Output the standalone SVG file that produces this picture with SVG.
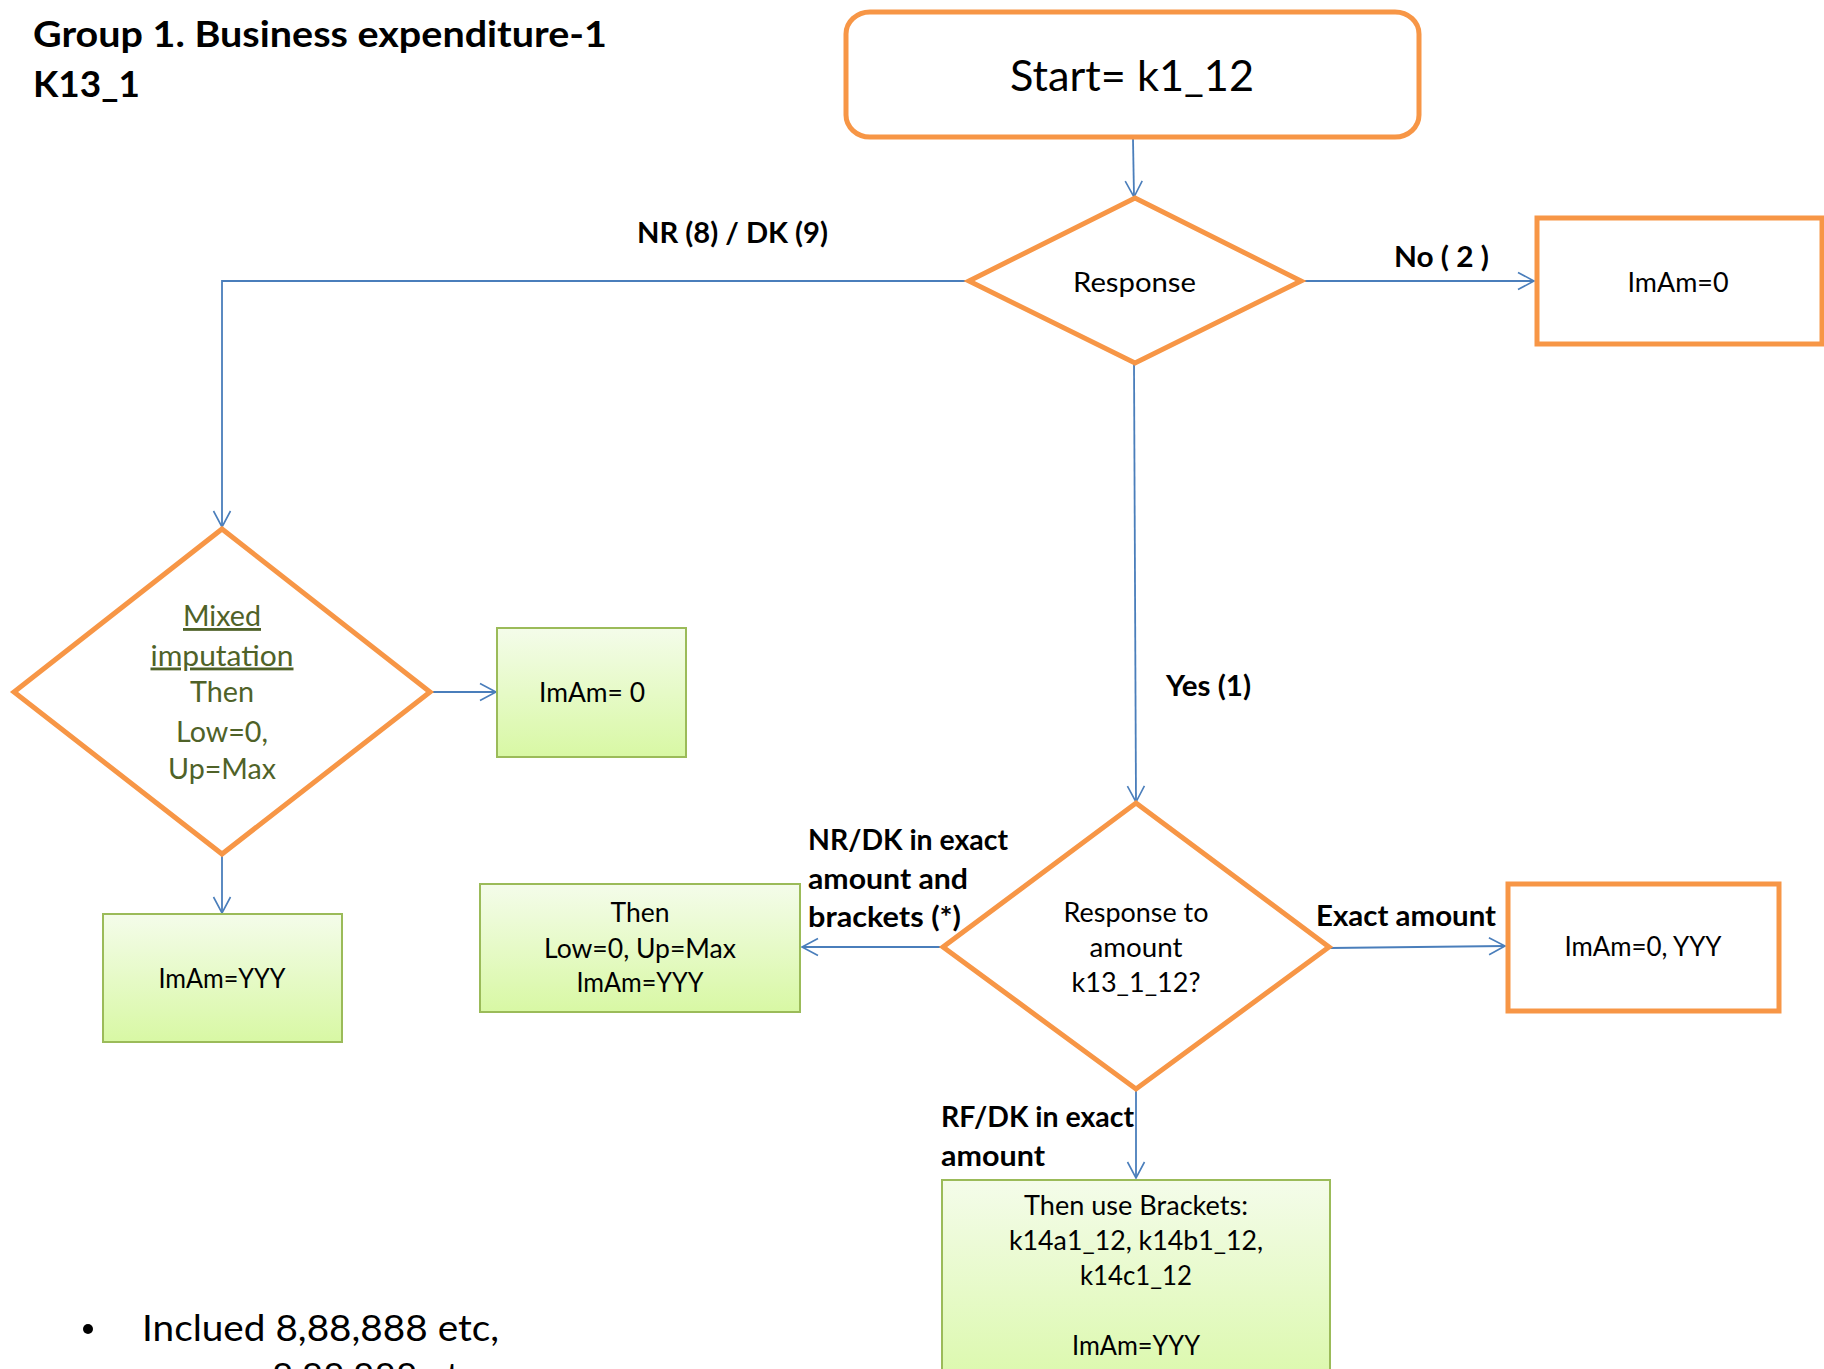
<svg xmlns="http://www.w3.org/2000/svg" width="1824" height="1369" viewBox="0 0 1824 1369">
<defs>
<linearGradient id="gf" x1="0" y1="0" x2="0" y2="1">
<stop offset="0" stop-color="#F4FCEA"/>
<stop offset="1" stop-color="#D8F8A4"/>
</linearGradient>
<marker id="ah" markerUnits="userSpaceOnUse" markerWidth="20" markerHeight="20" viewBox="0 0 20 20" refX="17" refY="10" orient="auto">
<path d="M1,1.5 L17,10 L1,18.5" fill="none" stroke="#4A7EBB" stroke-width="1.6"/>
</marker>
<style>
.conn{fill:none;stroke:#4A7EBB;stroke-width:1.8;marker-end:url(#ah)}
.ob{fill:#fff;stroke:#F79646;stroke-width:5}
.gb{fill:url(#gf);stroke:#9BBB59;stroke-width:2}
text{font-family:Lato,'Liberation Sans',sans-serif;fill:#000}
.t{font-size:26px;text-anchor:middle}
.lb{font-size:28.5px;font-weight:bold}
.dg{font-size:28.5px;text-anchor:middle;fill:#4F6228}
.ttl{font-size:35.5px;font-weight:bold}
</style>
</defs>
<rect width="1824" height="1369" fill="#fff"/>

<g id="title">
<text class="ttl" x="33" y="47" textLength="574" lengthAdjust="spacingAndGlyphs">Group 1. Business expenditure-1</text>
<text class="ttl" x="33" y="96.5" textLength="107" lengthAdjust="spacingAndGlyphs">K13_1</text>
</g>

<g id="connectors">
<path class="conn" d="M1133,139 L1134,197"/>
<path class="conn" d="M968,281 L222,281 L222,527"/>
<path class="conn" d="M1302,281 L1534,281"/>
<path class="conn" d="M1134,363 L1136,802"/>
<path class="conn" d="M430,692 L496,692"/>
<path class="conn" d="M222,855 L222,913"/>
<path class="conn" d="M942,947 L802,947"/>
<path class="conn" d="M1330,948 L1505,946"/>
<path class="conn" d="M1136,1090 L1136,1178"/>
</g>

<g id="edge-labels">
<text class="lb" x="637" y="243" textLength="191" lengthAdjust="spacingAndGlyphs">NR (8) / DK (9)</text>
<text class="lb" x="1394" y="267" textLength="95" lengthAdjust="spacingAndGlyphs">No ( 2 )</text>
<text class="lb" x="1166" y="695.5" textLength="85" lengthAdjust="spacingAndGlyphs">Yes (1)</text>
<text class="lb" x="808" y="850" textLength="200" lengthAdjust="spacingAndGlyphs">NR/DK in exact</text>
<text class="lb" x="808" y="889" textLength="160" lengthAdjust="spacingAndGlyphs">amount and</text>
<text class="lb" x="808" y="927" textLength="153" lengthAdjust="spacingAndGlyphs">brackets (*)</text>
<text class="lb" x="1316" y="926" textLength="180" lengthAdjust="spacingAndGlyphs">Exact amount</text>
<text class="lb" x="941" y="1126.5" textLength="193" lengthAdjust="spacingAndGlyphs">RF/DK in exact</text>
<text class="lb" x="941" y="1166" textLength="104" lengthAdjust="spacingAndGlyphs">amount</text>
</g>

<g id="start">
<rect class="ob" x="846" y="12" width="573" height="125" rx="24" ry="22"/>
<text x="1132" y="91" font-size="42" text-anchor="middle" textLength="244" lengthAdjust="spacingAndGlyphs">Start= k1_12</text>
</g>

<g id="response">
<polygon class="ob" points="1135,198 1301,281 1135,363 969,281"/>
<text class="t" x="1134.5" y="291.5" font-size="28.3" textLength="123" lengthAdjust="spacingAndGlyphs">Response</text>
</g>

<g id="imam0-no">
<rect class="ob" x="1537" y="218" width="285" height="126"/>
<text class="t" x="1678" y="291.5" textLength="101" lengthAdjust="spacingAndGlyphs">ImAm=0</text>
</g>

<g id="mixed">
<polygon class="ob" points="222,529 430,692 222,854 14,692"/>
<text class="dg" x="222" y="626" text-decoration="underline" textLength="78" lengthAdjust="spacingAndGlyphs">Mixed</text>
<text class="dg" x="222" y="665.5" text-decoration="underline" textLength="143" lengthAdjust="spacingAndGlyphs">imputation</text>
<text class="dg" x="222" y="702" textLength="64" lengthAdjust="spacingAndGlyphs">Then</text>
<text class="dg" x="222" y="741.5" textLength="92" lengthAdjust="spacingAndGlyphs">Low=0,</text>
<text class="dg" x="222" y="779" textLength="108" lengthAdjust="spacingAndGlyphs">Up=Max</text>
</g>

<g id="imam0-mixed">
<rect class="gb" x="497" y="628" width="189" height="129"/>
<text class="t" x="592" y="702" textLength="106" lengthAdjust="spacingAndGlyphs">ImAm= 0</text>
</g>

<g id="imamyyy-mixed">
<rect class="gb" x="103" y="914" width="239" height="128"/>
<text class="t" x="222" y="988" textLength="127" lengthAdjust="spacingAndGlyphs">ImAm=YYY</text>
</g>

<g id="response-amount">
<polygon class="ob" points="1136,803 1329,947 1136,1089 943,947"/>
<text class="t" x="1136" y="922" textLength="145" lengthAdjust="spacingAndGlyphs">Response to</text>
<text class="t" x="1136" y="957" textLength="93" lengthAdjust="spacingAndGlyphs">amount</text>
<text class="t" x="1136" y="992" textLength="129" lengthAdjust="spacingAndGlyphs">k13_1_12?</text>
</g>

<g id="then-box">
<rect class="gb" x="480" y="884" width="320" height="128"/>
<text class="t" x="640" y="922" textLength="59" lengthAdjust="spacingAndGlyphs">Then</text>
<text class="t" x="640" y="958" textLength="192" lengthAdjust="spacingAndGlyphs">Low=0, Up=Max</text>
<text class="t" x="640" y="992" textLength="127" lengthAdjust="spacingAndGlyphs">ImAm=YYY</text>
</g>

<g id="exact-box">
<rect class="ob" x="1508" y="884" width="271" height="127"/>
<text class="t" x="1643" y="956" textLength="157" lengthAdjust="spacingAndGlyphs">ImAm=0, YYY</text>
</g>

<g id="brackets-box">
<rect class="gb" x="942" y="1180" width="388" height="230"/>
<text class="t" x="1136" y="1215" textLength="224" lengthAdjust="spacingAndGlyphs">Then use Brackets:</text>
<text class="t" x="1136" y="1250" textLength="254" lengthAdjust="spacingAndGlyphs">k14a1_12, k14b1_12,</text>
<text class="t" x="1136" y="1285" textLength="112" lengthAdjust="spacingAndGlyphs">k14c1_12</text>
<text class="t" x="1136" y="1355" textLength="128" lengthAdjust="spacingAndGlyphs">ImAm=YYY</text>
</g>

<g id="note">
<circle cx="88" cy="1329" r="5" fill="#000"/>
<text x="142" y="1341" font-size="36" textLength="357" lengthAdjust="spacingAndGlyphs">Inclued 8,88,888 etc,</text>
<text x="272" y="1389" font-size="36" textLength="205" lengthAdjust="spacingAndGlyphs">8,88,888 etc</text>
</g>
</svg>
